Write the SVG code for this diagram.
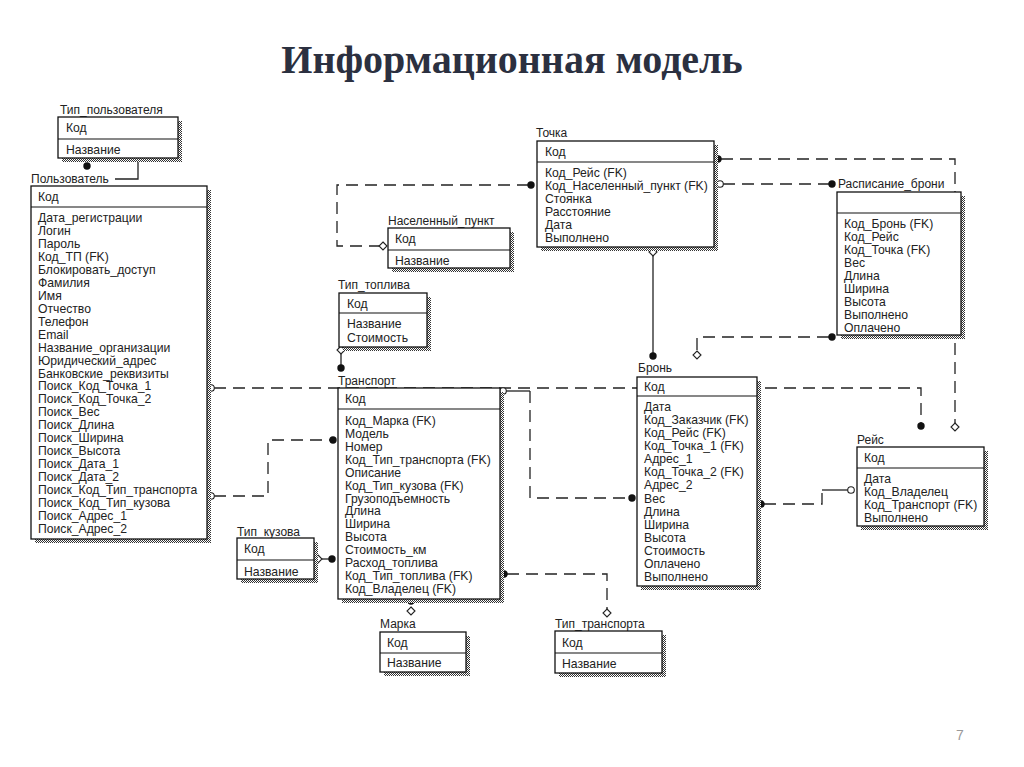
<svg xmlns="http://www.w3.org/2000/svg" width="1024" height="767" viewBox="0 0 1024 767">
<style>
.t{font-family:"Liberation Serif","Times New Roman",serif;font-weight:bold;font-size:40px;fill:#2b3040}
.l{font-family:"Liberation Sans",Arial,sans-serif;font-size:12px;fill:#222}
.r{font-family:"Liberation Sans",Arial,sans-serif;font-size:12.2px;fill:#222}
.box{fill:#fff;stroke:#111;stroke-width:1.3}
.sh{fill:url(#chk)}
.dv{stroke:#111;stroke-width:1.2}
.c{fill:none;stroke:#222;stroke-width:1.3}
.d{fill:none;stroke:#222;stroke-width:1.3;stroke-dasharray:12 7}
.dot{fill:#111}
.hol{fill:#fff;stroke:#222;stroke-width:1.1}
.pn{font-family:"Liberation Sans",Arial,sans-serif;font-size:14px;fill:#999}
</style>
<defs>
<pattern id="chk" width="2" height="2" patternUnits="userSpaceOnUse">
<rect width="2" height="2" fill="#fff"/>
<rect width="1" height="1" fill="#333"/>
<rect x="1" y="1" width="1" height="1" fill="#333"/>
</pattern>
</defs>
<rect width="1024" height="767" fill="#fff"/>
<text class="t" x="512" y="73" text-anchor="middle">Информационная модель</text>

<g id="connectors">
<!-- Тип_пользователя -> Пользователь -->
<path class="c" d="M138 158 V179 H115"/>
<circle class="dot" cx="87" cy="166" r="3.7"/>
<!-- Населенный_пункт -> Точка -->
<path class="d" d="M381 246 H337 V185 H528"/>
<circle class="dot" cx="531" cy="185" r="3.7"/>
<path class="hol" d="M383 242 L387 246 L383 250 L379 246 Z"/>
<!-- Рейс -> Точка -->
<path class="d" d="M721 159 H955 V423"/>
<circle class="dot" cx="718" cy="159" r="3.7"/>
<path class="hol" d="M955 423 L959 427 L955 431 L951 427 Z"/>
<!-- Точка -> Расписание_брони -->
<path class="d" d="M723 184 H829"/>
<circle class="hol" cx="720" cy="184" r="3.3"/>
<circle class="dot" cx="832" cy="184" r="3.7"/>
<!-- Точка -> Бронь -->
<path class="c" d="M653 256 V353"/>
<path class="hol" d="M653 248 L657 252 L653 256 L649 252 Z"/>
<circle class="dot" cx="653" cy="356" r="3.7"/>
<!-- Бронь -> Расписание_брони -->
<path class="d" d="M829 337 H697 V352"/>
<circle class="dot" cx="832" cy="337" r="3.7"/>
<path class="hol" d="M697 351 L701 355 L697 359 L693 355 Z"/>
<!-- Тип_топлива -> Транспорт -->
<path class="c" d="M341 354 V365"/>
<path class="hol" d="M341 346 L345 350 L341 354 L337 350 Z"/>
<circle class="dot" cx="341" cy="368" r="3.7"/>
<!-- Пользователь -> Рейс -->
<path class="d" d="M214 388 H921 V423"/>
<circle class="hol" cx="211" cy="388" r="3.3"/>
<circle class="dot" cx="921" cy="426" r="3.7"/>
<!-- Транспорт -> Бронь -->
<path class="c" d="M506 391 H530"/>
<path class="d" d="M530 391 V498 H629"/>
<circle class="hol" cx="503" cy="391" r="3.3"/>
<circle class="dot" cx="632" cy="498" r="3.7"/>
<!-- Пользователь -> Транспорт -->
<path class="d" d="M214 496 H268 V440 H330"/>
<circle class="hol" cx="211" cy="496" r="3.3"/>
<circle class="dot" cx="333" cy="440" r="3.7"/>
<!-- Тип_кузова -> Транспорт -->
<path class="c" d="M322 559 H330"/>
<path class="hol" d="M318 555 L322 559 L318 563 L314 559 Z"/>
<circle class="dot" cx="332" cy="559" r="3.7"/>
<!-- Тип_транспорта -> Транспорт -->
<path class="d" d="M507 574 H607 V609"/>
<circle class="dot" cx="504" cy="574" r="3.7"/>
<path class="hol" d="M607 609 L611 613 L607 617 L603 613 Z"/>
<!-- Марка -> Транспорт -->
<circle class="dot" cx="411" cy="601" r="3.7"/>
<path class="hol" d="M411 607 L415 611 L411 615 L407 611 Z"/>
<!-- Рейс -> Бронь -->
<path class="d" d="M764 504 H822 V490"/>
<path class="c" d="M822 490 H848"/>
<circle class="dot" cx="761" cy="504" r="3.7"/>
<circle class="hol" cx="851" cy="490" r="3.3"/>
</g>

<g id="tip_polzovatelya">
<text class="l" x="60" y="114">Тип_пользователя</text>
<rect class="sh" x="62" y="121" width="120" height="41"/>
<rect class="box" x="58" y="117" width="120" height="41"/>
<line class="dv" x1="58" y1="139" x2="178" y2="139"/>
<text class="r" x="66" y="132">Код</text>
<text class="r" x="66" y="154">Название</text>
</g>

<g id="polzovatel">
<text class="l" x="31" y="183">Пользователь</text>
<rect class="sh" x="35" y="190" width="176" height="353"/>
<rect class="box" x="31" y="186" width="176" height="353"/>
<line class="dv" x1="31" y1="207" x2="207" y2="207"/>
<text class="r" x="38" y="201">Код</text>
<text class="r" x="38" y="222"><tspan x="38" dy="0">Дата_регистрации</tspan><tspan x="38" dy="12.96">Логин</tspan><tspan x="38" dy="12.96">Пароль</tspan><tspan x="38" dy="12.96">Код_ТП (FK)</tspan><tspan x="38" dy="12.96">Блокировать_доступ</tspan><tspan x="38" dy="12.96">Фамилия</tspan><tspan x="38" dy="12.96">Имя</tspan><tspan x="38" dy="12.96">Отчество</tspan><tspan x="38" dy="12.96">Телефон</tspan><tspan x="38" dy="12.96">Email</tspan><tspan x="38" dy="12.96">Название_организации</tspan><tspan x="38" dy="12.96">Юридический_адрес</tspan><tspan x="38" dy="12.96">Банковские_реквизиты</tspan><tspan x="38" dy="12.96">Поиск_Код_Точка_1</tspan><tspan x="38" dy="12.96">Поиск_Код_Точка_2</tspan><tspan x="38" dy="12.96">Поиск_Вес</tspan><tspan x="38" dy="12.96">Поиск_Длина</tspan><tspan x="38" dy="12.96">Поиск_Ширина</tspan><tspan x="38" dy="12.96">Поиск_Высота</tspan><tspan x="38" dy="12.96">Поиск_Дата_1</tspan><tspan x="38" dy="12.96">Поиск_Дата_2</tspan><tspan x="38" dy="12.96">Поиск_Код_Тип_транспорта</tspan><tspan x="38" dy="12.96">Поиск_Код_Тип_кузова</tspan><tspan x="38" dy="12.96">Поиск_Адрес_1</tspan><tspan x="38" dy="12.96">Поиск_Адрес_2</tspan></text>
</g>

<g id="tochka">
<text class="l" x="536" y="137">Точка</text>
<rect class="sh" x="541" y="145" width="177" height="106"/>
<rect class="box" x="537" y="141" width="177" height="106"/>
<line class="dv" x1="537" y1="162" x2="714" y2="162"/>
<text class="r" x="545" y="156">Код</text>
<text class="r" x="545" y="177"><tspan x="545" dy="0">Код_Рейс (FK)</tspan><tspan x="545" dy="13">Код_Населенный_пункт (FK)</tspan><tspan x="545" dy="13">Стоянка</tspan><tspan x="545" dy="13">Расстояние</tspan><tspan x="545" dy="13">Дата</tspan><tspan x="545" dy="13">Выполнено</tspan></text>
</g>

<g id="raspisanie_broni">
<text class="l" x="838" y="188">Расписание_брони</text>
<rect class="sh" x="841" y="196" width="124" height="143"/>
<rect class="box" x="837" y="192" width="124" height="143"/>
<line class="dv" x1="837" y1="213" x2="961" y2="213"/>
<text class="r" x="844" y="228"><tspan x="844" dy="0">Код_Бронь (FK)</tspan><tspan x="844" dy="13">Код_Рейс</tspan><tspan x="844" dy="13">Код_Точка (FK)</tspan><tspan x="844" dy="13">Вес</tspan><tspan x="844" dy="13">Длина</tspan><tspan x="844" dy="13">Ширина</tspan><tspan x="844" dy="13">Высота</tspan><tspan x="844" dy="13">Выполнено</tspan><tspan x="844" dy="13">Оплачено</tspan></text>
</g>

<g id="naselenny_punkt">
<text class="l" x="388" y="225">Населенный_пункт</text>
<rect class="sh" x="392" y="232" width="122" height="40"/>
<rect class="box" x="388" y="228" width="122" height="40"/>
<line class="dv" x1="388" y1="250" x2="510" y2="250"/>
<text class="r" x="395" y="243">Код</text>
<text class="r" x="395" y="265">Название</text>
</g>

<g id="tip_topliva">
<text class="l" x="338" y="289">Тип_топлива</text>
<rect class="sh" x="343" y="297" width="88" height="54"/>
<rect class="box" x="339" y="293" width="88" height="54"/>
<line class="dv" x1="339" y1="313" x2="427" y2="313"/>
<text class="r" x="347" y="308">Код</text>
<text class="r" x="347" y="328"><tspan x="347" dy="0">Название</tspan><tspan x="347" dy="14">Стоимость</tspan></text>
</g>

<g id="transport">
<text class="l" x="338" y="385">Транспорт</text>
<rect class="sh" x="342" y="392" width="162" height="211"/>
<rect class="box" x="338" y="388" width="162" height="211"/>
<line class="dv" x1="338" y1="409" x2="500" y2="409"/>
<text class="r" x="345" y="403">Код</text>
<text class="r" x="345" y="425"><tspan x="345" dy="0">Код_Марка (FK)</tspan><tspan x="345" dy="12.92">Модель</tspan><tspan x="345" dy="12.92">Номер</tspan><tspan x="345" dy="12.92">Код_Тип_транспорта (FK)</tspan><tspan x="345" dy="12.92">Описание</tspan><tspan x="345" dy="12.92">Код_Тип_кузова (FK)</tspan><tspan x="345" dy="12.92">Грузоподъемность</tspan><tspan x="345" dy="12.92">Длина</tspan><tspan x="345" dy="12.92">Ширина</tspan><tspan x="345" dy="12.92">Высота</tspan><tspan x="345" dy="12.92">Стоимость_км</tspan><tspan x="345" dy="12.92">Расход_топлива</tspan><tspan x="345" dy="12.92">Код_Тип_топлива (FK)</tspan><tspan x="345" dy="12.92">Код_Владелец (FK)</tspan></text>
</g>

<g id="bron">
<text class="l" x="638" y="372">Бронь</text>
<rect class="sh" x="641" y="381" width="120" height="209"/>
<rect class="box" x="637" y="377" width="120" height="209"/>
<line class="dv" x1="637" y1="396" x2="757" y2="396"/>
<text class="r" x="644" y="391">Код</text>
<text class="r" x="644" y="411"><tspan x="644" dy="0">Дата</tspan><tspan x="644" dy="13.08">Код_Заказчик (FK)</tspan><tspan x="644" dy="13.08">Код_Рейс (FK)</tspan><tspan x="644" dy="13.08">Код_Точка_1 (FK)</tspan><tspan x="644" dy="13.08">Адрес_1</tspan><tspan x="644" dy="13.08">Код_Точка_2 (FK)</tspan><tspan x="644" dy="13.08">Адрес_2</tspan><tspan x="644" dy="13.08">Вес</tspan><tspan x="644" dy="13.08">Длина</tspan><tspan x="644" dy="13.08">Ширина</tspan><tspan x="644" dy="13.08">Высота</tspan><tspan x="644" dy="13.08">Стоимость</tspan><tspan x="644" dy="13.08">Оплачено</tspan><tspan x="644" dy="13.08">Выполнено</tspan></text>
</g>

<g id="reys">
<text class="l" x="857" y="444">Рейс</text>
<rect class="sh" x="861" y="451" width="127" height="79"/>
<rect class="box" x="857" y="447" width="127" height="79"/>
<line class="dv" x1="857" y1="468" x2="984" y2="468"/>
<text class="r" x="864" y="462">Код</text>
<text class="r" x="864" y="483"><tspan x="864" dy="0">Дата</tspan><tspan x="864" dy="13">Код_Владелец</tspan><tspan x="864" dy="13">Код_Транспорт (FK)</tspan><tspan x="864" dy="13">Выполнено</tspan></text>
</g>

<g id="tip_kuzova">
<text class="l" x="237" y="536">Тип_кузова</text>
<rect class="sh" x="241" y="542" width="77" height="41"/>
<rect class="box" x="237" y="538" width="77" height="41"/>
<line class="dv" x1="237" y1="560" x2="314" y2="560"/>
<text class="r" x="244" y="553">Код</text>
<text class="r" x="244" y="576">Название</text>
</g>

<g id="marka">
<text class="l" x="380" y="628">Марка</text>
<rect class="sh" x="384" y="636" width="86" height="40"/>
<rect class="box" x="380" y="632" width="86" height="40"/>
<line class="dv" x1="380" y1="653" x2="466" y2="653"/>
<text class="r" x="387" y="647">Код</text>
<text class="r" x="387" y="667">Название</text>
</g>

<g id="tip_transporta">
<text class="l" x="555" y="628">Тип_транспорта</text>
<rect class="sh" x="559" y="635" width="107" height="42"/>
<rect class="box" x="555" y="631" width="107" height="42"/>
<line class="dv" x1="555" y1="653" x2="662" y2="653"/>
<text class="r" x="562" y="647">Код</text>
<text class="r" x="562" y="668">Название</text>
</g>

<text class="pn" x="956" y="740">7</text>
</svg>
